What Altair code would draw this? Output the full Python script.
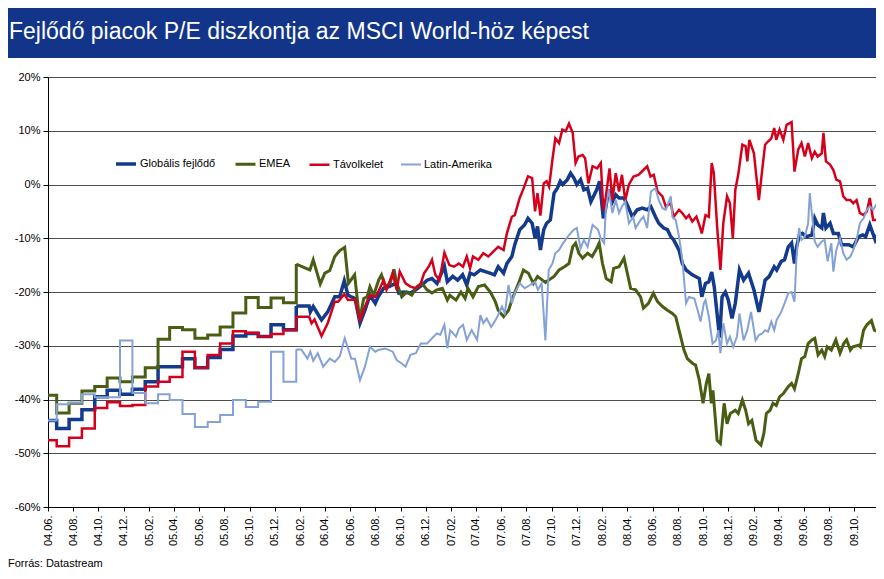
import altair as alt
import pandas as pd

FONT = "Liberation Sans"
TITLE = "Fejlődő piacok P/E diszkontja az MSCI World-höz képest"
SOURCE = "Forrás: Datastream"

SERIES = ["Globális fejlődő", "EMEA", "Távolkelet", "Latin-Amerika"]
COLORS = ["#143A8C", "#4A5E13", "#D5001C", "#84A2D6"]
LINE_WIDTHS = [3.5, 2.0, 2.0, 2.5]
BANNER = "#12358A"

Y_TICKS = [-60, -50, -40, -30, -20, -10, 0, 10, 20]
X_TICKS = ["2004-06-01", "2004-08-01", "2004-10-01", "2004-12-01",
           "2005-02-01", "2005-04-01", "2005-06-01", "2005-08-01", "2005-10-01", "2005-12-01",
           "2006-02-01", "2006-04-01", "2006-06-01", "2006-08-01", "2006-10-01", "2006-12-01",
           "2007-02-01", "2007-04-01", "2007-06-01", "2007-08-01", "2007-10-01", "2007-12-01",
           "2008-02-01", "2008-04-01", "2008-06-01", "2008-08-01", "2008-10-01", "2008-12-01",
           "2009-02-01", "2009-04-01", "2009-06-01", "2009-08-01", "2009-10-01"]
X_START, X_END = "2004-06-01", "2009-11-23"

# monthly-updated period (values hold until the next date)
STEP_DATES = ["2004-06-01", "2004-06-22", "2004-07-22", "2004-08-22", "2004-09-22", "2004-10-22",
              "2004-11-22", "2004-12-22", "2005-01-22", "2005-02-22", "2005-03-22", "2005-04-22",
              "2005-05-22", "2005-06-22", "2005-07-22", "2005-08-22", "2005-09-22", "2005-10-22",
              "2005-11-22", "2005-12-22", "2006-01-22"]
STEP_GLOBAL = [-43.9, -45.4, -43.7, -41.9, -39.5, -38.3, -39.0, -38.1, -36.7, -33.9, -33.9,
               -32.4, -34.1, -32.2, -30.7, -28.2, -27.7, -28.3, -26.1, -27.0, -22.6]
STEP_EMEA = [-39.2, -42.5, -40.7, -38.4, -37.6, -36.0, -36.7, -35.8, -34.1, -28.8, -26.6,
             -27.0, -28.6, -28.0, -26.5, -23.9, -21.0, -22.9, -21.1, -22.0, -14.8]
STEP_ASIA = [-47.6, -48.7, -47.1, -45.4, -41.6, -40.5, -41.2, -41.0, -37.6, -36.7, -35.8,
             -31.1, -34.1, -31.7, -29.6, -27.3, -27.6, -28.3, -27.8, -27.1, -24.6]
STEP_LATAM = [-43.9, -40.9, -40.6, -39.0, -39.6, -39.6, -29.0, -38.8, -40.7, -39.0, -40.1,
              -42.7, -45.1, -44.2, -42.9, -40.1, -41.4, -40.4, -31.1, -36.7, -30.7]

# weekly period (date, value in %)
GLOBAL = [("2006-01-22",-22.6),("2006-02-22",-22.6),("2006-02-25",-23.7),("2006-03-04",-22.7),("2006-03-24",-25.2),("2006-04-08",-23.7),("2006-04-25",-20.9),("2006-05-07",-20.9),("2006-05-18",-17.9),("2006-05-27",-20.6),("2006-06-13",-21.2),("2006-06-25",-25.8),("2006-07-07",-23.4),("2006-07-19",-20.6),("2006-08-01",-22.1),("2006-08-08",-20.9),("2006-08-21",-19.3),("2006-09-03",-19.0),("2006-09-19",-18.4),("2006-09-27",-20.2),("2006-10-08",-20.0),("2006-10-25",-20.2),("2006-11-07",-19.6),("2006-11-22",-18.7),("2006-12-04",-17.8),("2006-12-16",-17.5),("2006-12-28",-18.4),("2007-01-15",-15.2),("2007-01-22",-18.1),("2007-02-04",-17.1),("2007-02-16",-17.8),("2007-02-28",-16.8),("2007-03-10",-18.7),("2007-03-18",-16.5),("2007-03-28",-16.8),("2007-04-12",-15.9),("2007-04-24",-16.2),("2007-05-05",-16.5),("2007-05-16",-16.8),("2007-05-25",-15.3),("2007-06-07",-16.5),("2007-06-15",-14.7),("2007-06-27",-13.4),("2007-07-04",-11.2),("2007-07-16",-8.4),("2007-07-28",-7.5),("2007-08-05",-6.3),("2007-08-15",-7.2),("2007-08-22",-10.0),("2007-08-28",-7.8),("2007-09-04",-12.2),("2007-09-12",-8.4),("2007-09-19",-7.2),("2007-09-28",-6.6),("2007-10-07",-1.6),("2007-10-15",-0.7),("2007-10-22",0.6),("2007-10-28",0.0),("2007-11-08",0.9),("2007-11-16",2.1),("2007-11-24",1.2),("2007-12-01",0.0),("2007-12-10",0.9),("2007-12-18",-1.0),("2007-12-27",-0.7),("2008-01-04",-3.2),("2008-01-18",-1.0),("2008-01-25",0.6),("2008-02-03",-6.3),("2008-02-08",-4.7),("2008-02-16",-1.0),("2008-02-25",-3.2),("2008-03-04",-1.9),("2008-03-12",-2.5),("2008-03-24",-2.5),("2008-04-01",-3.8),("2008-04-13",-6.0),("2008-04-25",-4.7),("2008-05-07",-4.4),("2008-05-19",-4.7),("2008-05-28",-4.1),("2008-06-08",-6.0),("2008-06-16",-7.2),("2008-06-28",-8.1),("2008-07-07",-8.4),("2008-07-15",-9.7),("2008-07-22",-10.3),("2008-08-04",-12.2),("2008-08-12",-14.7),("2008-08-21",-15.9),("2008-09-05",-16.8),("2008-09-22",-17.5),("2008-09-28",-20.9),("2008-10-07",-18.4),("2008-10-15",-18.1),("2008-10-22",-16.3),("2008-10-28",-19.0),("2008-11-10",-28.5),("2008-11-16",-20.9),("2008-11-24",-20.0),("2008-12-01",-21.5),("2008-12-10",-24.9),("2008-12-18",-22.1),("2008-12-28",-15.9),("2009-01-07",-17.8),("2009-01-19",-16.5),("2009-02-01",-19.6),("2009-02-13",-23.7),("2009-02-21",-20.6),("2009-02-28",-17.8),("2009-03-10",-17.1),("2009-03-22",-15.3),("2009-03-28",-15.9),("2009-04-08",-14.3),("2009-04-16",-14.0),("2009-04-25",-11.6),("2009-05-03",-10.9),("2009-05-10",-14.7),("2009-05-15",-11.6),("2009-05-22",-9.4),("2009-05-29",-9.1),("2009-06-08",-9.7),("2009-06-21",-9.4),("2009-06-28",-6.3),("2009-07-05",-7.5),("2009-07-15",-8.1),("2009-07-19",-5.3),("2009-07-25",-8.1),("2009-08-04",-7.2),("2009-08-12",-9.1),("2009-08-24",-9.1),("2009-09-01",-11.2),("2009-09-18",-11.2),("2009-09-29",-11.6),("2009-10-12",-9.7),("2009-10-22",-9.4),("2009-10-29",-9.7),("2009-11-08",-7.5),("2009-11-21",-10.3),("2009-11-28",-9.1),("2009-12-18",-9.1)]

EMEA = [("2006-01-22",-14.8),("2006-02-09",-15.4),("2006-02-24",-15.9),("2006-03-04",-14.0),("2006-03-21",-18.5),("2006-04-01",-16.5),("2006-04-13",-16.0),("2006-04-25",-13.4),("2006-05-07",-12.3),("2006-05-19",-11.7),("2006-05-28",-18.4),("2006-06-12",-16.8),("2006-06-24",-25.2),("2006-07-04",-21.2),("2006-07-12",-20.9),("2006-07-19",-19.0),("2006-07-28",-20.6),("2006-08-09",-17.8),("2006-08-16",-16.8),("2006-08-25",-19.0),("2006-09-06",-18.4),("2006-09-15",-15.8),("2006-09-22",-18.4),("2006-10-04",-20.9),("2006-10-16",-20.0),("2006-10-28",-20.6),("2006-11-10",-19.0),("2006-11-22",-18.4),("2006-12-04",-19.6),("2006-12-16",-20.2),("2006-12-28",-19.6),("2007-01-10",-19.3),("2007-01-22",-21.5),("2007-01-28",-20.6),("2007-02-12",-21.5),("2007-02-24",-20.0),("2007-03-06",-21.2),("2007-03-13",-19.3),("2007-03-25",-20.9),("2007-04-07",-19.0),("2007-04-22",-18.7),("2007-05-06",-20.0),("2007-05-18",-21.8),("2007-05-25",-23.4),("2007-06-07",-24.6),("2007-06-19",-23.4),("2007-06-27",-21.5),("2007-07-13",-18.4),("2007-07-25",-15.9),("2007-08-06",-16.5),("2007-08-18",-18.4),("2007-08-28",-17.1),("2007-09-16",-18.2),("2007-10-07",-17.1),("2007-10-19",-15.9),("2007-11-01",-15.3),("2007-11-12",-14.7),("2007-11-21",-11.6),("2007-11-28",-10.9),("2007-12-06",-12.8),("2007-12-15",-13.7),("2007-12-27",-12.8),("2008-01-07",-13.4),("2008-01-16",-12.2),("2008-01-24",-10.9),("2008-02-01",-14.7),("2008-02-10",-17.5),("2008-02-22",-18.1),("2008-02-28",-15.6),("2008-03-12",-15.3),("2008-03-24",-13.7),("2008-04-01",-16.5),("2008-04-09",-19.3),("2008-04-21",-19.6),("2008-05-03",-20.9),("2008-05-10",-23.0),("2008-05-22",-22.1),("2008-06-03",-20.2),("2008-06-13",-21.8),("2008-06-25",-22.7),("2008-07-07",-23.4),("2008-07-19",-24.0),("2008-07-27",-24.6),("2008-08-04",-27.1),("2008-08-16",-30.8),("2008-08-24",-32.4),("2008-09-06",-33.3),("2008-09-13",-33.6),("2008-09-22",-36.4),("2008-10-01",-40.7),("2008-10-09",-37.0),("2008-10-15",-35.2),("2008-10-21",-40.7),("2008-10-25",-38.3),("2008-11-04",-47.6),("2008-11-12",-48.2),("2008-11-21",-40.7),("2008-11-28",-44.5),("2008-12-06",-42.6),("2008-12-18",-42.0),("2008-12-25",-42.6),("2009-01-04",-40.1),("2009-01-12",-42.0),("2009-01-19",-44.5),("2009-01-27",-43.9),("2009-02-06",-47.6),("2009-02-18",-48.5),("2009-02-25",-46.3),("2009-03-03",-42.6),("2009-03-12",-42.0),("2009-03-19",-40.7),("2009-03-27",-41.1),("2009-04-04",-39.5),("2009-04-13",-38.9),("2009-04-25",-37.6),("2009-05-03",-37.0),("2009-05-10",-38.0),("2009-05-19",-35.2),("2009-05-27",-32.4),("2009-06-04",-32.0),("2009-06-12",-29.6),("2009-06-21",-28.9),("2009-06-28",-28.6),("2009-07-06",-31.7),("2009-07-15",-30.8),("2009-07-22",-32.0),("2009-07-28",-30.2),("2009-08-07",-30.8),("2009-08-18",-28.9),("2009-08-28",-31.4),("2009-09-06",-29.6),("2009-09-13",-28.9),("2009-09-22",-30.8),("2009-09-28",-30.2),("2009-10-12",-29.9),("2009-10-16",-30.2),("2009-10-24",-27.1),("2009-11-01",-26.1),("2009-11-12",-25.3),("2009-11-19",-27.1),("2009-11-28",-27.4),("2009-12-18",-28.2)]

ASIA = [("2006-01-22",-24.6),("2006-02-22",-24.6),("2006-02-28",-25.8),("2006-03-07",-25.1),("2006-03-24",-28.2),("2006-04-08",-25.8),("2006-04-25",-21.8),("2006-05-03",-21.8),("2006-05-18",-20.4),("2006-05-27",-21.5),("2006-06-13",-21.4),("2006-06-25",-25.2),("2006-07-07",-22.7),("2006-07-19",-20.6),("2006-08-01",-20.9),("2006-08-08",-20.0),("2006-08-21",-17.8),("2006-08-28",-19.6),("2006-09-12",-16.5),("2006-09-22",-19.6),("2006-09-29",-16.2),("2006-10-13",-18.4),("2006-10-25",-19.0),("2006-11-07",-19.3),("2006-11-19",-18.4),("2006-11-27",-16.5),("2006-12-08",-15.3),("2006-12-16",-14.0),("2006-12-24",-16.8),("2007-01-03",-17.8),("2007-01-15",-12.7),("2007-01-27",-15.0),("2007-02-07",-15.3),("2007-02-19",-14.7),("2007-03-01",-15.3),("2007-03-10",-13.4),("2007-03-18",-15.6),("2007-03-25",-13.4),("2007-04-07",-14.0),("2007-04-19",-12.8),("2007-05-01",-13.4),("2007-05-13",-12.5),("2007-05-25",-11.6),("2007-06-07",-12.2),("2007-06-15",-9.1),("2007-06-27",-6.0),("2007-07-04",-5.7),("2007-07-16",-2.5),("2007-07-24",-1.0),("2007-08-05",1.5),("2007-08-15",1.2),("2007-08-22",-5.0),("2007-08-28",-1.6),("2007-09-04",-5.8),("2007-09-12",0.2),("2007-09-19",0.6),("2007-09-25",-0.4),("2007-10-03",4.6),("2007-10-10",8.6),("2007-10-19",7.7),("2007-10-27",10.2),("2007-11-04",9.9),("2007-11-12",11.3),("2007-11-21",9.6),("2007-11-28",4.0),("2007-12-05",5.2),("2007-12-15",5.5),("2007-12-21",4.9),("2007-12-29",0.2),("2008-01-08",3.4),("2008-01-19",3.0),("2008-01-28",4.0),("2008-02-03",-4.7),("2008-02-08",-2.9),("2008-02-18",3.0),("2008-02-25",-2.9),("2008-03-04",2.1),("2008-03-12",-1.3),("2008-03-19",1.8),("2008-03-27",-2.9),("2008-04-05",0.0),("2008-04-16",1.5),("2008-04-28",1.8),("2008-05-10",2.7),("2008-05-19",3.4),("2008-05-27",1.5),("2008-06-04",1.8),("2008-06-13",-1.3),("2008-06-25",-2.2),("2008-07-03",-4.1),("2008-07-15",-3.5),("2008-07-22",-6.0),("2008-08-04",-4.7),("2008-08-12",-5.3),("2008-08-21",-6.3),("2008-08-28",-5.7),("2008-09-05",-6.9),("2008-09-15",-6.0),("2008-09-22",-7.5),("2008-09-28",-9.1),("2008-10-07",-5.7),("2008-10-15",-6.0),("2008-10-22",4.0),("2008-10-27",2.1),("2008-11-04",-7.8),("2008-11-12",-15.9),("2008-11-19",-7.2),("2008-11-28",-2.2),("2008-12-05",-3.5),("2008-12-12",-10.0),("2008-12-18",-1.0),("2008-12-25",1.8),("2009-01-04",7.4),("2009-01-12",7.1),("2009-01-16",4.3),("2009-01-21",8.3),("2009-02-01",5.8),("2009-02-13",-2.9),("2009-02-21",2.7),("2009-02-28",7.4),("2009-03-07",8.0),("2009-03-15",8.6),("2009-03-22",10.5),("2009-03-27",8.3),("2009-04-04",10.2),("2009-04-13",8.3),("2009-04-21",11.1),("2009-05-03",11.6),("2009-05-10",2.4),("2009-05-19",6.5),("2009-05-27",7.7),("2009-06-04",5.2),("2009-06-12",7.7),("2009-06-21",4.9),("2009-06-28",6.1),("2009-07-05",5.2),("2009-07-15",5.8),("2009-07-19",9.6),("2009-07-25",4.3),("2009-08-04",3.7),("2009-08-12",2.7),("2009-08-19",0.9),("2009-08-28",0.6),("2009-09-05",-2.2),("2009-09-13",-2.9),("2009-09-22",-2.9),("2009-09-29",-3.5),("2009-10-07",-2.9),("2009-10-15",-5.3),("2009-10-24",-5.7),("2009-11-01",-5.0),("2009-11-08",-2.5),("2009-11-16",-6.6),("2009-11-28",-6.6),("2009-12-18",-7.2)]

LATAM = [("2006-01-22",-30.7),("2006-02-03",-30.7),("2006-02-18",-32.4),("2006-02-25",-31.1),("2006-03-04",-32.8),("2006-03-15",-31.4),("2006-03-28",-33.9),("2006-04-13",-32.4),("2006-04-25",-33.0),("2006-05-07",-32.0),("2006-05-19",-28.6),("2006-06-04",-32.4),("2006-06-13",-32.4),("2006-06-25",-36.4),("2006-07-07",-33.9),("2006-07-19",-30.2),("2006-08-01",-31.1),("2006-08-08",-30.8),("2006-08-25",-30.5),("2006-09-12",-31.1),("2006-09-22",-32.7),("2006-10-04",-33.3),("2006-10-13",-33.9),("2006-10-25",-31.7),("2006-11-07",-31.4),("2006-11-19",-29.6),("2006-12-04",-29.6),("2006-12-16",-28.6),("2006-12-28",-27.7),("2007-01-05",-28.0),("2007-01-15",-26.1),("2007-01-22",-30.5),("2007-01-29",-27.1),("2007-02-12",-28.3),("2007-02-19",-26.8),("2007-03-01",-26.1),("2007-03-10",-28.9),("2007-03-22",-27.1),("2007-04-04",-28.9),("2007-04-12",-24.3),("2007-04-19",-25.8),("2007-04-27",-24.9),("2007-05-08",-26.5),("2007-05-21",-24.9),("2007-06-03",-22.7),("2007-06-10",-24.0),("2007-06-19",-18.7),("2007-06-27",-22.1),("2007-07-04",-20.2),("2007-07-16",-18.4),("2007-07-28",-19.3),("2007-08-10",-18.7),("2007-08-22",-18.1),("2007-08-29",-19.6),("2007-09-07",-18.4),("2007-09-16",-29.0),("2007-09-24",-15.9),("2007-10-03",-14.7),("2007-10-10",-12.8),("2007-10-19",-12.2),("2007-10-29",-10.9),("2007-11-12",-9.4),("2007-11-24",-8.4),("2007-12-01",-8.1),("2007-12-10",-11.9),("2007-12-18",-10.3),("2007-12-27",-11.6),("2008-01-08",-7.5),("2008-01-21",-8.4),("2008-01-28",-10.0),("2008-02-05",-10.9),("2008-02-09",-4.7),("2008-02-16",-1.0),("2008-02-25",-5.3),("2008-03-04",-2.9),("2008-03-12",-5.3),("2008-03-19",-4.1),("2008-03-27",-3.2),("2008-04-05",-7.2),("2008-04-15",-6.0),("2008-04-21",-8.1),("2008-05-03",-6.6),("2008-05-10",-6.0),("2008-05-19",-8.1),("2008-05-28",-1.3),("2008-06-08",-0.7),("2008-06-16",-2.9),("2008-06-25",-4.4),("2008-07-03",-4.7),("2008-07-15",-2.2),("2008-07-19",-6.0),("2008-07-27",-6.6),("2008-08-04",-9.7),("2008-08-12",-14.0),("2008-08-21",-22.1),("2008-08-28",-20.9),("2008-09-10",-21.2),("2008-09-18",-23.4),("2008-09-25",-25.5),("2008-10-03",-22.1),("2008-10-07",-21.5),("2008-10-15",-24.6),("2008-10-24",-29.6),("2008-11-01",-29.0),("2008-11-07",-27.1),("2008-11-12",-31.4),("2008-11-19",-25.8),("2008-11-28",-29.6),("2008-12-05",-28.3),("2008-12-13",-30.2),("2008-12-22",-28.3),("2008-12-28",-24.0),("2009-01-07",-29.0),("2009-01-16",-27.1),("2009-01-25",-23.7),("2009-02-05",-29.0),("2009-02-13",-28.0),("2009-02-21",-27.7),("2009-02-28",-27.1),("2009-03-07",-27.4),("2009-03-15",-25.5),("2009-03-22",-27.1),("2009-03-28",-25.2),("2009-04-08",-23.7),("2009-04-16",-22.1),("2009-04-25",-20.2),("2009-05-03",-20.0),("2009-05-10",-21.8),("2009-05-15",-13.4),("2009-05-21",-8.1),("2009-05-27",-10.3),("2009-06-04",-9.7),("2009-06-12",-7.2),("2009-06-16",-1.6),("2009-06-21",-5.3),("2009-06-28",-10.6),("2009-07-05",-11.6),("2009-07-15",-10.6),("2009-07-22",-10.3),("2009-07-29",-14.3),("2009-08-07",-10.9),("2009-08-12",-16.2),("2009-08-19",-12.2),("2009-08-28",-10.0),("2009-09-05",-12.8),("2009-09-13",-14.0),("2009-09-22",-13.4),("2009-09-29",-12.2),("2009-10-07",-10.3),("2009-10-15",-7.2),("2009-10-24",-6.3),("2009-11-01",-4.7),("2009-11-08",-4.1),("2009-11-16",-4.7),("2009-11-28",-3.2),("2009-12-18",-1.3)]

# ---------------- tables ----------------
step_rows = []
for name, vals in zip(SERIES, [STEP_GLOBAL, STEP_EMEA, STEP_ASIA, STEP_LATAM]):
    for d, v in zip(STEP_DATES, vals):
        step_rows.append({"datum": d, "ertek": v, "sorozat": name})
step_df = pd.DataFrame(step_rows)

weekly_rows = []
for name, pairs in zip(SERIES, [GLOBAL, EMEA, ASIA, LATAM]):
    for d, v in pairs:
        weekly_rows.append({"datum": d, "ertek": v, "sorozat": name})
weekly_df = pd.DataFrame(weekly_rows)

text_df = pd.DataFrame({"cim": [TITLE], "forras": [SOURCE]})


def dt(s):
    y, m, d = (int(p) for p in s.split("-"))
    return alt.DateTime(year=y, month=m, date=d, utc=True)


W, H = 828, 430

x_enc = alt.X(
    "datum:T",
    title=None,
    scale=alt.Scale(type="utc", domain=[dt(X_START), dt(X_END)]),
    axis=alt.Axis(
        values=[dt(s) for s in X_TICKS],
        labelExpr="utcFormat(datum.value, '%y.%m.')",
        labelAngle=-90,
        labelFontSize=11,
        labelFont=FONT,
        labelColor="#000000",
        labelPadding=4,
        tickSize=4,
        tickColor="#000000",
        domainColor="#000000",
        grid=False,
        labelOverlap=False,
    ),
)
y_enc = alt.Y(
    "ertek:Q",
    title=None,
    scale=alt.Scale(domain=[-60, 20], nice=False, zero=False),
    axis=alt.Axis(
        values=Y_TICKS,
        labelExpr="datum.value + '%'",
        labelFontSize=11,
        labelFont=FONT,
        labelColor="#000000",
        labelPadding=3,
        tickSize=5,
        tickColor="#000000",
        domainColor="#000000",
        grid=True,
        gridColor="#4d4d4d",
        gridWidth=1,
    ),
)
color_enc = alt.Color(
    "sorozat:N",
    scale=alt.Scale(domain=SERIES, range=COLORS),
    legend=alt.Legend(
        title=None,
        orient="none",
        legendX=66,
        legendY=75,
        direction="horizontal",
        symbolType="stroke",
        symbolSize=400,
        symbolStrokeWidth=3,
        labelFontSize=11,
        labelFont=FONT,
        labelColor="#000000",
        labelOffset=2,
        columnPadding=13,
    ),
)
sw_enc = alt.StrokeWidth("sorozat:N", scale=alt.Scale(domain=SERIES, range=LINE_WIDTHS), legend=None)

step_lines = alt.Chart(step_df).mark_line(interpolate="step-after", clip=True).encode(
    x=x_enc, y=y_enc, color=color_enc, strokeWidth=sw_enc
)
weekly_lines = alt.Chart(weekly_df).mark_line(clip=True).encode(
    x=x_enc, y=y_enc, color=color_enc, strokeWidth=sw_enc
)

banner = alt.Chart(text_df).mark_rect(color=BANNER).encode(
    x=alt.value(-40), x2=alt.value(W), y=alt.value(-69), y2=alt.value(-19)
)
title_txt = alt.Chart(text_df).mark_text(
    align="left", baseline="alphabetic", color="#FFFFFF", fontSize=23, font=FONT
).encode(x=alt.value(-39), y=alt.value(-38), text="cim:N")
source_txt = alt.Chart(text_df).mark_text(
    align="left", baseline="alphabetic", color="#000000", fontSize=11, font=FONT
).encode(x=alt.value(-40), y=alt.value(490), text="forras:N")

chart = alt.layer(banner, title_txt, step_lines, weekly_lines, source_txt).properties(
    width=W, height=H, padding=0
).configure_view(stroke=None).configure(background="#FFFFFF")

chart.save("out.html", embed_options={"renderer": "svg", "actions": False})
